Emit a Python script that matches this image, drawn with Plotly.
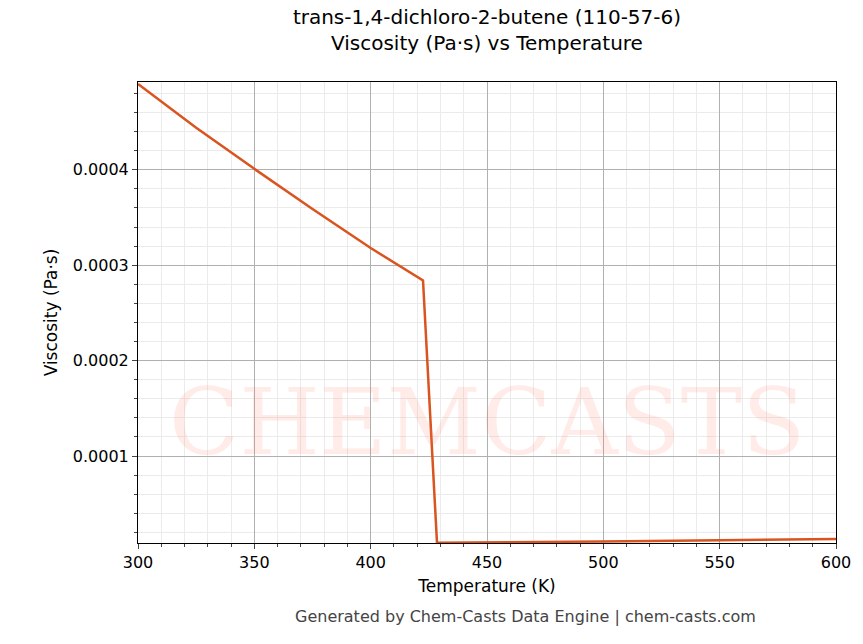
import plotly.graph_objects as go

# Viscosity curve
temperature = [300, 325, 350, 375, 400, 422.5, 428.5, 450, 500, 550, 600]
viscosity = [0.000490, 0.000444, 0.000401, 0.000359, 0.000318, 0.000284,
             0.0000092, 0.0000095, 0.0000105, 0.0000118, 0.0000131]

fig = go.Figure(go.Scatter(
    x=temperature, y=viscosity, mode="lines",
    line=dict(color="#d9541e", width=2.5), showlegend=False))

# faint watermark
fig.add_annotation(text="CHEMCASTS", x=0.5, y=0.14, xref="paper", yref="paper",
                   showarrow=False, font=dict(size=92, color="rgba(255,120,100,0.15)",
                                              family="DejaVu Serif"))

axis_common = dict(showline=True, linecolor="black", mirror=True, ticks="outside",
                   gridcolor="#b0b0b0", gridwidth=0.6, zeroline=False, automargin=False,
                   tickfont=dict(size=16, color="black"),
                   minor=dict(ticks="outside", ticklen=3, showgrid=True,
                              gridcolor="#ebebeb", gridwidth=0.5))

fig.update_xaxes(range=[300, 600], dtick=50, title_text="Temperature (K)",
                 title_font=dict(size=17), title_standoff=8, minor_dtick=10, **axis_common)
fig.update_yaxes(range=[0.0000089, 0.000492], tickvals=[0.0001, 0.0002, 0.0003, 0.0004],
                 ticktext=["0.0001", "0.0002", "0.0003", "0.0004"],
                 title_text="Viscosity (Pa·s)", title_font=dict(size=17), title_standoff=10,
                 minor_dtick=0.00002, **axis_common)

fig.update_layout(
    width=863, height=644, plot_bgcolor="white", paper_bgcolor="white",
    font=dict(family="DejaVu Sans", color="black"),
    title=dict(text="trans-1,4-dichloro-2-butene (110-57-6)<br>Viscosity (Pa·s) vs Temperature",
               x=0.555, xanchor="center", y=0.975, font=dict(size=20)),
    margin=dict(l=130, r=35, t=74, b=109))

fig.add_annotation(text="Generated by Chem-Casts Data Engine | chem-casts.com",
                   x=0.555, y=-0.185, xref="paper", yref="paper", showarrow=False,
                   font=dict(size=16, color="#444444"))

fig.write_html("out.html")
